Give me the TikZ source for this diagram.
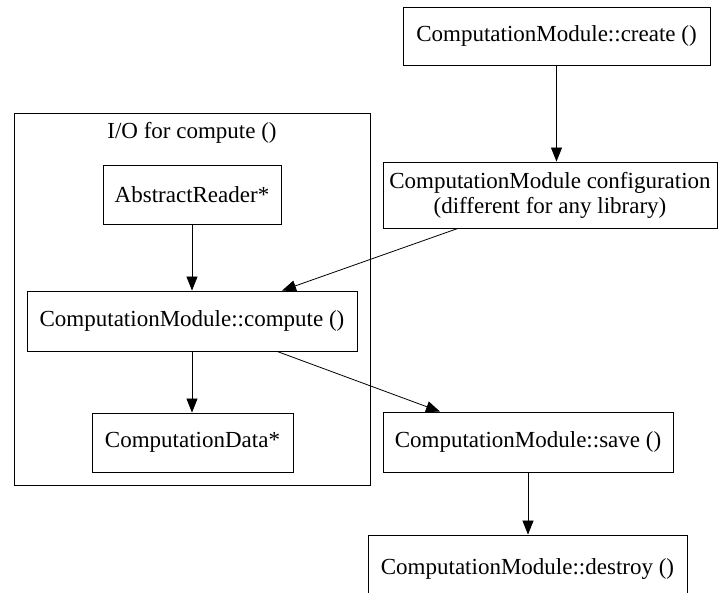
\documentclass[tikz,border=0pt]{standalone}
\usepackage{fontspec}
\setmainfont{Liberation Serif}
\usetikzlibrary{arrows.meta}
\begin{document}
\begin{tikzpicture}[x=1pt,y=-1pt,
  box/.style={draw, line width=0.8pt, rectangle, inner sep=0pt, font=\fontsize{23}{25}\selectfont, align=center},
  arr/.style={line width=0.8pt, -{Triangle[length=14pt,width=11pt]}}]
\useasboundingbox (0,0) rectangle (718,593);
% cluster
\node[draw, line width=0.8pt, minimum width=356pt, minimum height=372pt, inner sep=0pt] (cluster) at (192,299) {};
\node[font=\fontsize{23}{25}\selectfont, inner sep=0pt] (ctitle) at (192,133) {I/O for compute ()};
% nodes
\node[box, minimum width=307pt, minimum height=58pt] (create) at (556.5,36) {ComputationModule::create ()};
\node[box, minimum width=334pt, minimum height=66pt] (config) at (550,195) {ComputationModule configuration\\(different for any library)};
\node[box, minimum width=178pt, minimum height=59pt] (reader) at (192,194.5) {AbstractReader*};
\node[box, minimum width=330pt, minimum height=60pt] (compute) at (192,321) {ComputationModule::compute ()};
\node[box, minimum width=201pt, minimum height=59pt] (data) at (192.5,442.5) {ComputationData*};
\node[box, minimum width=290pt, minimum height=60pt] (save) at (528,442) {ComputationModule::save ()};
\node[box, minimum width=319pt, minimum height=64pt, text depth=0pt] (destroy) at (527.5,567) {ComputationModule::destroy ()};
% edges
\draw[arr] (create.south) -- (create.south |- config.north);
\draw[arr] (reader.south) -- (reader.south |- compute.north);
\draw[arr] (compute.south) -- (compute.south |- data.north);
\draw[arr] ([xshift=-92pt]config.south) -- ([xshift=90pt]compute.north);
\draw[arr] ([xshift=85pt]compute.south) -- ([xshift=-88pt]save.north);
\draw[arr] (save.south) -- (save.south |- destroy.north);
\end{tikzpicture}
\end{document}
